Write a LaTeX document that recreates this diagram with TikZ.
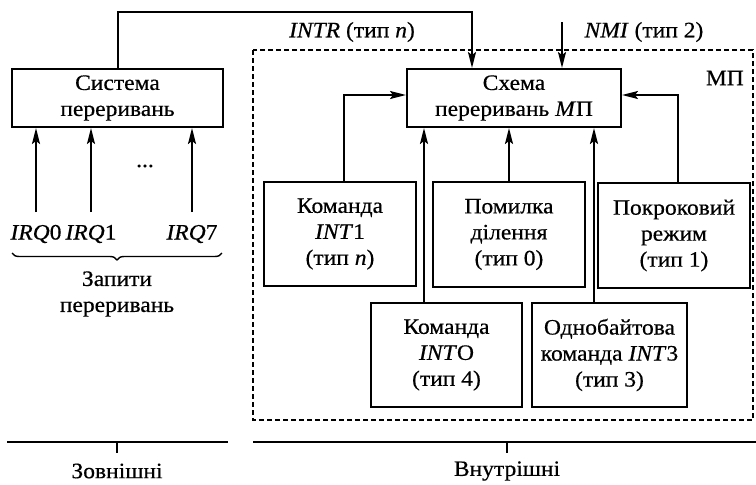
\documentclass[tikz,border=0pt]{standalone}
\usepackage{fontspec}
\setmainfont{Liberation Serif}[FakeStretch=1.07,FakeBold=0.5]
\usetikzlibrary{arrows.meta,decorations.pathreplacing}
\begin{document}
\begin{tikzpicture}[x=1pt,y=-1pt,
  every node/.style={font=\fontsize{22}{26}\selectfont, align=center, inner sep=0pt},
  blk/.style={draw, line width=2pt},
  arr/.style={line width=2pt, -{Stealth[length=16pt,width=8pt,inset=3pt]}},
  thin/.style={line width=1.4pt}]
\useasboundingbox (0,0) rectangle (756,485);
% dashed MP box
\draw[thin, dash pattern=on 5pt off 3pt] (253,50) rectangle (753,420);
\node[anchor=east] (mp) at (744,78) {МП};
% boxes
\node[blk, minimum width=211pt, minimum height=58pt] (sys) at (117.5,98) {Система\\переривань};
\node[blk, minimum width=214pt, minimum height=58pt] (sch) at (514,98) {Схема\\переривань \textit{М}П};
\node[blk, minimum width=152pt, minimum height=104pt] (int1) at (340,234) {Команда\\\textit{INT}1\\(тип \textit{n})};
\node[blk, minimum width=152pt, minimum height=105pt] (pom) at (509,234.5) {Помилка\\ділення\\(тип 0)};
\node[blk, minimum width=152pt, minimum height=105pt] (pok) at (674,235.5) {Покроковий\\режим\\(тип 1)};
\node[blk, minimum width=151pt, minimum height=104pt] (into) at (446.5,355) {Команда\\\textit{INT}O\\(тип 4)};
\node[blk, minimum width=155pt, minimum height=104pt] (int3) at (609.5,355) {Однобайтова\\команда \textit{INT}3\\(тип 3)};
% IRQ
\node (irq0) at (36,234) {\textit{IRQ}0};
\node (irq1) at (91,234) {\textit{IRQ}1};
\node (irq7) at (192,234) {\textit{IRQ}7};
\node (dots) at (145,166) {...};
\coordinate (a0) at (36,212);
\coordinate (a1) at (91,212);
\coordinate (a7) at (192,212);
\draw[arr] (a0) -- (a0 |- sys.south);
\draw[arr] (a1) -- (a1 |- sys.south);
\draw[arr] (a7) -- (a7 |- sys.south);
\draw[line width=1.4pt, decorate, decoration={brace, mirror, amplitude=7pt}] (12,253) -- (222,253);
\node (req) at (117,294) {Запити\\переривань};
% INTR / NMI
\coordinate (top) at (0,12);
\coordinate (intrin) at ([xshift=-42pt]sch.north);
\draw[arr] (sys.north) |- (top -| intrin) -- (intrin);
\node (intr) at (352,32) {\textit{INTR} (тип \textit{n})};
\coordinate (nmi) at (562,22);
\draw[arr] (nmi) -- (nmi |- sch.north);
\node (nmil) at (644,32) {\textit{NMI} (тип 2)};
% internal connectors
\draw[arr] ([xshift=4pt]int1.north) |- ([yshift=3pt]sch.west);
\draw[arr] (pom.north) -- (sch.south -| pom.north);
\draw[arr] ([xshift=4pt]pok.north) |- ([yshift=3pt]sch.east);
\coordinate (c4) at ([xshift=-22.5pt]into.north);
\draw[arr] (c4) -- (c4 |- sch.south);
\coordinate (c3) at ([xshift=-15.5pt]int3.north);
\draw[arr] (c3) -- (c3 |- sch.south);
% bottom
\draw[thin] (7,442) -- (228,442);
\draw[thin] (117,442) -- (117,453);
\draw[thin] (253,442) -- (756,442);
\draw[thin] (507,442) -- (507,453);
\node (ext) at (117,471) {Зовнішні};
\node (int) at (507,471) {Внутрішні};
\end{tikzpicture}
\end{document}
